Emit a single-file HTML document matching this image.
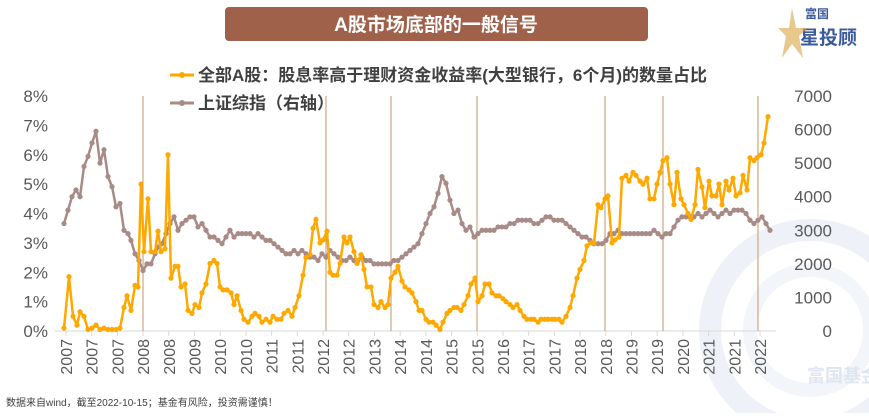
<!DOCTYPE html>
<html><head><meta charset="utf-8"><style>
body{margin:0;width:869px;height:413px;background:#fff;overflow:hidden;font-family:"Liberation Sans","Noto Sans CJK SC",sans-serif;}
</style></head><body>
<svg id="s" width="869" height="413" xmlns="http://www.w3.org/2000/svg" font-family="Liberation Sans, Noto Sans CJK SC, sans-serif">
<circle cx="810" cy="330" r="100" fill="none" stroke="#eef2f8" stroke-width="22"/>
<circle cx="810" cy="330" r="60" fill="none" stroke="#f2f5fa" stroke-width="14"/>
<text x="843" y="382" font-size="18" font-weight="bold" fill="#dfe6ef" text-anchor="middle">富国基金</text>
<rect x="225" y="7" width="423" height="34" rx="4" fill="#a0614a"/>
<text x="436" y="31" font-size="19" font-weight="bold" fill="#fff" text-anchor="middle">A股市场底部的一般信号</text>
<text x="805" y="18" font-size="12" font-weight="bold" fill="#3c5a9a">富国</text>
<text x="800" y="44" font-size="19" font-weight="bold" fill="#3c5a9a">星投顾</text>
<polygon points="792,8 796,28 808,28 799,36 803,58 792,44 782,58 786,36 778,28 789,28" fill="#d9a441" opacity="0.6"/>
<g id="axes" font-size="17" fill="#595959"></g>
<g id="plot"></g>
<g font-size="17" font-weight="bold" fill="#404040">
<line x1="170" y1="75" x2="194" y2="75" stroke="#ffa500" stroke-width="3"/><circle cx="182" cy="75" r="3" fill="#ffa500"/>
<text x="198" y="81">全部A股：股息率高于理财资金收益率(大型银行，6个月)的数量占比</text>
<line x1="170" y1="103" x2="194" y2="103" stroke="#a88a86" stroke-width="3"/><circle cx="182" cy="103" r="3" fill="#a88a86"/>
<text x="198" y="109">上证综指（右轴）</text>
</g>
<text x="6" y="406" font-size="10" fill="#404040">数据来自wind，截至2022-10-15；基金有风险，投资需谨慎！</text>
</svg>
<script>
const NS="http://www.w3.org/2000/svg";
const ax=document.getElementById('axes'),pl=document.getElementById('plot');
function el(p,t,a,txt){const e=document.createElementNS(NS,t);for(const k in a)e.setAttribute(k,a[k]);if(txt!==undefined)e.textContent=txt;p.appendChild(e);return e;}
const y0=331,y8=96;const py=v=>y0-v*(y0-y8)/8, ps=v=>y0-v*(y0-y8)/7000;
for(let i=0;i<=8;i++){el(ax,'text',{x:48,y:py(i)+6,'text-anchor':'end'},i+'%');}
for(let i=0;i<=7;i++){el(ax,'text',{x:832,y:ps(i*1000)+6,'text-anchor':'end'},String(i*1000));}
el(ax,'line',{x1:55,y1:y0,x2:776,y2:y0,stroke:'#d9d9d9','stroke-width':1});
[143,326,391,477,605,663,758].forEach(x=>el(ax,'line',{x1:x,y1:y8,x2:x,y2:y0,stroke:'#c0956a','stroke-width':1}));
const labs="2007 2007 2007 2008 2008 2009 2010 2010 2011 2011 2012 2012 2013 2014 2014 2015 2015 2016 2017 2017 2018 2018 2019 2019 2020 2021 2021 2022".split(' ');
labs.forEach((l,i)=>{const x=66+i*(760-66)/27;el(ax,'line',{x1:x,y1:y0,x2:x,y2:y0+5,stroke:'#d9d9d9'});el(ax,'text',{x:0,y:0,'text-anchor':'end',transform:`translate(${x+6},${y0+8}) rotate(-90)`,'font-size':16},l);});
const o=[[64,0.1],[69,1.85],[73,0.5],[77,0.2],[80,0.65],[84,0.5],[88,0.05],[92,0.1],[96,0.2],[100,0.05],[104,0.1],[108,0.05],[112,0.05],[116,0.05],[120,0.1],[124,0.8],[127,1.2],[131,0.7],[135,1.55],[138,1.5],[141,5.0],[144,2.7],[148,4.5],[151,2.7],[155,2.7],[158,3.4],[161,2.7],[165,2.8],[168,6.0],[171,1.8],[175,2.2],[178,2.2],[181,1.5],[185,1.6],[188,0.7],[192,0.6],[195,0.9],[199,0.8],[202,1.3],[206,1.6],[210,2.3],[214,2.4],[217,2.3],[220,1.5],[223,1.4],[227,1.4],[231,1.3],[234,0.9],[237,1.2],[241,0.7],[244,0.4],[248,0.3],[252,0.5],[255,0.6],[259,0.5],[262,0.3],[266,0.4],[270,0.3],[273,0.5],[277,0.4],[281,0.4],[284,0.6],[288,0.7],[292,0.5],[295,0.8],[299,1.2],[303,1.9],[306,2.5],[310,2.6],[313,3.5],[316,3.8],[320,3.0],[323,3.1],[327,3.4],[330,2.0],[333,1.9],[337,1.9],[340,2.3],[344,3.2],[347,3.0],[350,3.2],[354,2.7],[357,2.3],[361,2.6],[364,2.1],[367,1.5],[371,1.5],[374,0.9],[378,0.8],[381,1.0],[385,0.8],[388,0.9],[391,1.8],[395,2.0],[398,2.2],[402,1.7],[405,1.5],[409,1.4],[412,1.3],[416,1.0],[419,0.7],[422,0.7],[426,0.4],[429,0.3],[433,0.3],[436,0.2],[440,0.05],[443,0.3],[447,0.6],[450,0.7],[454,0.8],[457,0.8],[461,0.7],[464,0.9],[468,1.2],[471,1.6],[475,1.8],[478,1.0],[482,1.2],[485,1.6],[489,1.6],[492,1.3],[496,1.2],[499,1.2],[503,1.1],[506,1.0],[510,0.9],[513,0.8],[517,0.9],[520,0.7],[524,0.5],[527,0.4],[531,0.4],[534,0.4],[538,0.3],[541,0.4],[545,0.4],[548,0.4],[552,0.4],[555,0.4],[559,0.4],[562,0.3],[566,0.5],[570,0.8],[573,1.2],[577,1.8],[580,2.1],[584,2.4],[587,2.9],[591,3.0],[594,3.0],[598,4.3],[601,4.2],[605,4.5],[608,4.6],[612,3.0],[615,3.1],[619,3.2],[622,5.2],[626,5.3],[629,5.1],[633,5.4],[636,5.3],[640,5.1],[643,5.0],[647,5.2],[650,4.5],[654,4.5],[657,5.0],[660,5.4],[663,5.8],[667,5.9],[670,5.0],[674,4.3],[677,5.4],[681,4.5],[684,4.3],[688,4.0],[691,3.8],[695,4.3],[698,5.5],[702,4.9],[705,4.2],[709,5.1],[712,4.6],[716,4.6],[719,5.0],[722,4.3],[726,5.1],[729,4.8],[733,5.2],[736,4.6],[740,4.7],[743,5.3],[747,4.8],[750,5.9],[754,5.8],[757,5.9],[761,6.0],[764,6.4],[768,7.3]];
const s=[[64,3200],[68,3600],[72,4000],[76,4200],[80,4000],[84,4900],[88,5200],[92,5600],[96,5950],[100,5000],[104,5400],[108,4600],[112,4300],[116,3700],[120,3800],[124,3000],[128,2900],[131,2700],[135,2300],[139,2100],[143,1800],[147,2000],[151,2000],[155,2300],[158,2500],[162,2600],[166,2900],[170,3200],[174,3400],[178,3000],[182,3200],[186,3300],[190,3400],[194,3400],[198,3100],[202,3200],[206,3000],[210,2800],[214,2800],[218,2700],[222,2600],[226,2800],[230,3000],[234,2800],[238,2900],[242,2900],[246,2900],[250,2900],[254,2800],[258,2900],[262,2800],[266,2700],[270,2700],[274,2600],[278,2500],[282,2400],[286,2300],[290,2300],[294,2400],[298,2300],[302,2400],[306,2300],[310,2200],[314,2200],[318,2100],[322,2300],[326,2200],[330,2400],[334,2300],[338,2200],[342,2100],[346,2100],[350,2200],[354,2100],[358,2100],[362,2200],[366,2100],[370,2100],[374,2000],[378,2000],[382,2000],[386,2000],[390,2000],[394,2100],[398,2100],[402,2200],[406,2300],[410,2400],[414,2500],[418,2600],[422,2900],[426,3200],[430,3500],[434,3700],[438,4100],[442,4600],[446,4400],[450,3900],[454,3500],[458,3600],[462,3200],[466,3000],[470,3100],[474,2800],[478,2900],[482,3000],[486,3000],[490,3000],[494,3000],[498,3100],[502,3100],[506,3100],[510,3200],[514,3200],[518,3300],[522,3300],[526,3300],[530,3300],[534,3200],[538,3200],[542,3300],[546,3400],[550,3400],[554,3300],[558,3300],[562,3300],[566,3200],[570,3100],[574,3000],[578,2900],[582,2800],[586,2800],[590,2700],[594,2600],[598,2600],[602,2600],[606,2700],[610,2900],[614,2900],[618,3000],[622,2900],[626,2900],[630,2900],[634,2900],[638,2900],[642,2900],[646,2900],[650,2900],[654,3000],[658,2900],[662,2800],[666,2900],[670,2900],[674,3100],[678,3300],[682,3400],[686,3400],[690,3400],[694,3400],[698,3500],[702,3400],[706,3500],[710,3600],[714,3500],[718,3400],[722,3500],[726,3600],[730,3500],[734,3600],[738,3600],[742,3600],[746,3500],[750,3300],[754,3200],[758,3300],[762,3400],[766,3200],[770,3000]];
function series(d,f,c){const pts=d.map(p=>p[0]+','+f(p[1]).toFixed(1)).join(' ');el(pl,'polyline',{points:pts,fill:'none',stroke:c,'stroke-width':2.5,'stroke-linejoin':'round'});d.forEach(p=>el(pl,'circle',{cx:p[0],cy:f(p[1]),r:2.6,fill:c}));}
series(s,ps,'#a88a86');
series(o,py,'#ffa800');
</script>
</body></html>
